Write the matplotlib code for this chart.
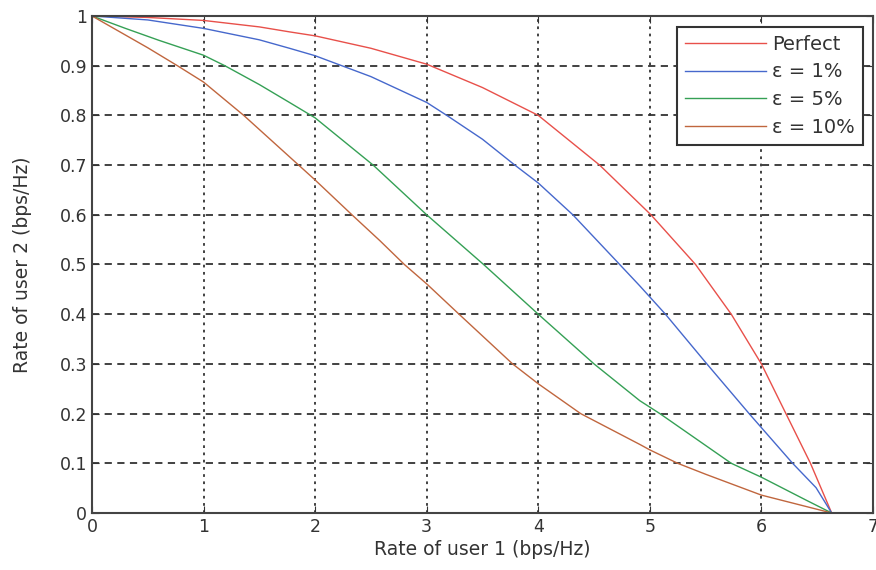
import numpy as np
import matplotlib
matplotlib.use("Agg")
import matplotlib.pyplot as plt

# Hodnoty (x = rate of user 1, y = rate of user 2)
perfect_x = [0, 0.5, 1, 1.5, 1.77, 2, 2.5, 3, 3.5, 4, 4.55, 5.01, 5.41, 5.73, 6.0, 6.22, 6.44, 6.63]
perfect_y = [1, 0.997, 0.991, 0.978, 0.968, 0.96, 0.935, 0.903, 0.856, 0.80, 0.70, 0.60, 0.50, 0.40, 0.30, 0.20, 0.10, 0]

eps1_x = [0, 0.5, 1, 1.5, 1.77, 2, 2.5, 3, 3.18, 3.5, 3.79, 4, 4.31, 4.73, 4.91, 5.14, 5.5, 5.89, 6.28, 6.49, 6.63]
eps1_y = [1, 0.992, 0.975, 0.952, 0.935, 0.92, 0.878, 0.826, 0.80, 0.752, 0.70, 0.664, 0.60, 0.50, 0.457, 0.40, 0.303, 0.20, 0.10, 0.051, 0]

eps5_x = [0, 0.3, 0.6, 1, 1.19, 1.5, 1.77, 2, 2.52, 3, 3.51, 4, 4.5, 4.91, 5.09, 5.73, 6, 6.4, 6.63]
eps5_y = [1, 0.975, 0.951, 0.921, 0.90, 0.862, 0.826, 0.795, 0.70, 0.60, 0.50, 0.40, 0.30, 0.226, 0.20, 0.10, 0.072, 0.026, 0]

eps10_x = [0, 0.5, 0.765, 1, 1.36, 2, 2.33, 2.58, 2.8, 3, 3.29, 3.77, 4, 4.38, 4.91, 5, 5.25, 5.5, 6, 6.63]
eps10_y = [1, 0.936, 0.90, 0.867, 0.80, 0.67, 0.60, 0.548, 0.50, 0.461, 0.40, 0.30, 0.26, 0.20, 0.138, 0.127, 0.10, 0.078, 0.036, 0]

labels = ["Perfect", "ε = 1%", "ε = 5%", "ε = 10%"]
colors = ["#e8504a", "#4668cc", "#35a055", "#c0663e"]

plt.rcParams["font.family"] = ["DejaVu Sans"]

fig = plt.figure(figsize=(8.76, 5.70), dpi=100)
ax = fig.add_axes([0.105, 0.1, 0.8915, 0.872])

series = [(perfect_x, perfect_y), (eps1_x, eps1_y), (eps5_x, eps5_y), (eps10_x, eps10_y)]
for (xs, ys), lab, c in zip(series, labels, colors):
    ax.plot(xs, ys, color=c, linewidth=1.0, label=lab)

ax.set_xlim(0, 7)
ax.set_ylim(0, 1)
ax.set_xticks(np.arange(0, 8, 1))
ax.set_yticks(np.arange(0, 1.01, 0.1))
ax.set_yticklabels(["0", "0.1", "0.2", "0.3", "0.4", "0.5", "0.6", "0.7", "0.8", "0.9", "1"])

# mřížka jako v MATLABu
ax.xaxis.grid(True, color="#333333", linestyle=(0, (1.5, 2.5)), linewidth=1.3)
ax.yaxis.grid(True, color="#333333", linestyle=(0, (4, 3)), linewidth=1.3)

ax.tick_params(direction="in", length=5, top=True, right=True, labelsize=12.5,
               colors="#333333", labelcolor="#333333")
for s in ax.spines.values():
    s.set_color("#444444")
    s.set_linewidth(1.5)

ax.set_xlabel("Rate of user 1 (bps/Hz)", fontsize=13.5, color="#333333", labelpad=3)
ax.set_ylabel("Rate of user 2 (bps/Hz)", fontsize=13.5, color="#333333", labelpad=20)

leg = ax.legend(loc="upper right", bbox_to_anchor=(0.987, 0.978), borderaxespad=0,
                fontsize=14, handlelength=4.2, handletextpad=0.3, labelspacing=0.45,
                fancybox=False, framealpha=1, borderpad=0.4)
leg.get_frame().set_edgecolor("#333333")
leg.get_frame().set_linewidth(1.5)
for t in leg.get_texts():
    t.set_color("#333333")

fig.savefig("out.png", dpi=100)
